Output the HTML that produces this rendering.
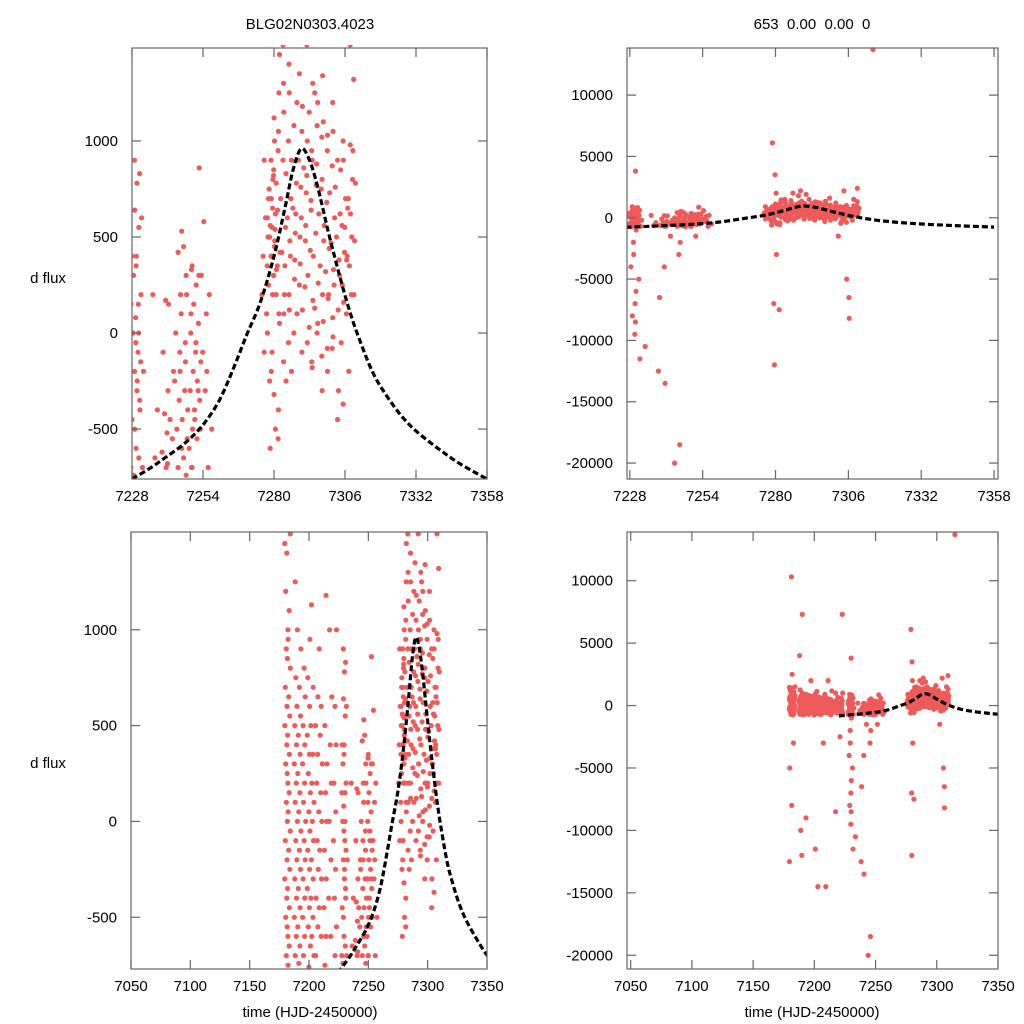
<!DOCTYPE html>
<html><head><meta charset="utf-8">
<style>
html,body{margin:0;padding:0;background:#fff;width:1024px;height:1024px;overflow:hidden;}
svg{display:block;font-family:"Liberation Sans",sans-serif;}
</style></head>
<body>
<svg id="chart" width="1024" height="1024" viewBox="0 0 1024 1024" xmlns="http://www.w3.org/2000/svg">
<text x="310" y="29" font-size="15" text-anchor="middle">BLG02N0303.4023</text>
<text x="812" y="29" font-size="15" text-anchor="middle" xml:space="preserve">653  0.00  0.00  0</text>
<text x="48" y="283" font-size="15" text-anchor="middle">d flux</text>
<text x="48" y="768" font-size="15" text-anchor="middle">d flux</text>
<text x="310" y="1017" font-size="15" text-anchor="middle">time (HJD-2450000)</text>
<text x="812" y="1017" font-size="15" text-anchor="middle">time (HJD-2450000)</text>
</svg>
<script>
// observation nights (HJD-2450000) and flux values per night
const nights = [7181,7183,7189,7192,7196,7200,7203,7207,7210,7214,7218,7222,7229,7230,7231,7233,7237,7240,7242,7245,7247,7249,7251,7252,7254,7256,7277,7279,7280,7281,7283,7285,7287,7289,7291,7293,7295,7297,7299,7301,7303,7305,7306,7308,7309,7314];
const fluxes = [
[1450,1400,1200,1000,900,850,700,600,500,400,300,200,100,0,-100,-200,-300,-400,-500,-600,-700,2500,-5000,-8000,-12500,10300],
[1100,950,800,650,550,450,350,250,150,50,-50,-150,-250,-350,-450,-550,-650,-750,1500,-3000],
[1250,1000,750,600,500,400,300,200,100,0,-100,-200,-300,-400,-500,-600,-700,7300,-10000,-12000,4000],
[900,700,550,450,350,250,150,50,-50,-150,-250,-350,-450,-550,-650,-740,-9000],
[800,650,500,400,300,200,100,0,-100,-200,-300,-400,-500,-600,-700,2000],
[950,750,600,450,350,250,150,50,-50,-150,-250,-350,-450,-550,-650,-760,-11500],
[1130,700,500,350,200,100,0,-100,-200,-300,-400,-500,-600,-700,-14500],
[650,500,350,200,50,-100,-250,-400,-550,-700,-3000],
[900,600,450,300,150,0,-150,-300,-450,-600,-14500,2000],
[1180,500,300,150,0,-150,-300,-450,-600,-750],
[1000,650,400,200,0,-200,-400,-600,-8500],
[1000,600,400,200,50,-100,-250,-400,-550,-700,7300,-2500],
[900,780,400,350,150,80,0,-100,-200,-300,-450,-600,-700,-2000,-4000,-6000,-8000,-9500],
[830,640,550,300,150,-50,-150,-250,-350,-500,-650,-740,-1000,-3000,-5000,-7000],
[3800,600,400,200,0,-200,-400,-700,-8500],
[-10500,-11500],
[200,-400,-650,-12500],
[170,-100,-300,-420,-520,-620,-700,-6500,-4000],
[150,-200,-450,-550,-680,-1500,-13500],
[530,420,200,0,-100,-250,-350,-500,-600,-700,-18500,-20000,-3000],
[450,300,100,-50,-200,-300,-450,-550,-650,-740,-2000],
[330,200,0,-150,-300,-400,-500,-600,-700],
[350,250,100,-100,-200,-300,-400,-550,-700,-1500],
[300,150,50,-50,-150,-250,-350,-450],
[860,580,300,100,-100,-300,-500],
[200,-200,-500,-700],
[900,750,600,500,400,350,200,100,-100],
[1000,900,820,700,650,600,550,500,450,400,300,250,200,0,-100,-250,2000,6100,3500],
[850,780,700,620,560,480,400,350,300,200,-200,-500,-600,-3000,-7000],
[1250,1120,950,800,640,540,420,330,100,-320,-550,-12000,-7500],
[1450,1300,1050,900,700,550,420,200,50,-150,-400,1500],
[1400,1150,1000,830,700,600,480,350,200,100,-50,-250,2000],
[1250,1080,900,780,650,520,400,280,120,0,-200,1800],
[1350,1200,1050,900,760,620,500,380,250,100,-100,2200],
[1180,1000,860,730,600,480,360,240,120,-50,1900],
[1300,1150,950,820,690,560,430,300,170,30,-150,1500],
[1250,1080,900,770,640,520,400,260,130,0,-180],
[1340,1200,1020,880,750,620,480,350,200,50,-120],
[1100,950,800,680,560,440,320,180,60,-80,-300,1600],
[1200,1030,870,730,600,470,330,200,80,-200,-80],
[1050,900,760,620,500,380,250,120,-20,-450,-1500],
[1000,850,700,560,420,300,160,-300,-370,2200,-6500],
[900,700,550,400,250,100,-50,-8200,-5000],
[1320,980,800,650,500,380,200,-200,2400,1500],
[950,780,620,480,350,200],
[13700]
];
// model curve samples
const modelT = [7220,7228,7235,7240,7245,7250,7255,7260,7265,7270,7275,7280,7284,7287,7290,7293,7296,7300,7304,7308,7312,7316,7320,7326,7332,7340,7348,7358];
const modelF = [-830,-760,-700,-650,-600,-540,-460,-350,-190,-10,160,400,650,850,960,900,760,520,300,100,-60,-200,-300,-420,-510,-600,-680,-760];
// axis tick labels
const xTicksTop = [7228,7254,7280,7306,7332,7358];
const xTicksBottom = [7050,7100,7150,7200,7250,7300,7350];
const yTicksSmall = [-500,0,500,1000];
const yTicksBig = [-20000,-15000,-10000,-5000,0,5000,10000];

const NS = "http://www.w3.org/2000/svg";
const svg = document.getElementById('chart');
function mk(tag, attrs, parent){const e=document.createElementNS(NS,tag);for(const k in attrs)e.setAttribute(k,attrs[k]);(parent||svg).appendChild(e);return e;}
const jit = [-1.4,0.3,-0.6,1.2,-0.1,0.8,-1.0,0.5];

const panels = [
 {name:'top-left', x0:132,x1:487,y0:48,y1:479, xmin:7228,xmax:7358, ymin:-760,ymax:1484, xt:xTicksTop, yt:yTicksSmall, mStart:7228},
 {name:'top-right', x0:627,x1:998,y0:48,y1:479, xmin:7227,xmax:7359.4, ymin:-21300,ymax:13840, xt:xTicksTop, yt:yTicksBig, mStart:7220},
 {name:'bottom-left', x0:131,x1:487,y0:532,y1:969, xmin:7050,xmax:7350, ymin:-770,ymax:1510, xt:xTicksBottom, yt:yTicksSmall, mStart:7220},
 {name:'bottom-right', x0:627,x1:998,y0:532,y1:969, xmin:7047,xmax:7350, ymin:-21100,ymax:13900, xt:xTicksBottom, yt:yTicksBig, mStart:7220}
];

panels.forEach((p,i)=>{
 const sx = t => p.x0 + (t-p.xmin)/(p.xmax-p.xmin)*(p.x1-p.x0);
 const sy = v => p.y1 - (v-p.ymin)/(p.ymax-p.ymin)*(p.y1-p.y0);
 const g = mk('g',{});
 
 
 const cp = mk('clipPath',{id:'clip'+i}, g);
 mk('rect',{x:p.x0,y:p.y0-3,width:p.x1-p.x0,height:p.y1-p.y0+3},cp);
 const pts = mk('g',{'clip-path':'url(#clip'+i+')',fill:'#ee5a5a'},g);
 
 
 nights.forEach((t,ni)=>{
  fluxes[ni].forEach((f,k)=>{
   const c = mk('circle',{cx:(sx(t+jit[(k+ni)%8])).toFixed(1),cy:sy(f).toFixed(1),r:2.6},pts);
   
   
  });
 });
 const P = [];
 modelT.forEach((t,k)=>{ if(t>=p.mStart) P.push([sx(t),sy(modelF[k])]); });
 let d='M'+P[0][0].toFixed(1)+','+P[0][1].toFixed(1);
 for(let k=0;k<P.length-1;k++){
  const p0=P[Math.max(k-1,0)],p1=P[k],p2=P[k+1],p3=P[Math.min(k+2,P.length-1)];
  const c1=[p1[0]+(p2[0]-p0[0])/6,p1[1]+(p2[1]-p0[1])/6];
  const c2=[p2[0]-(p3[0]-p1[0])/6,p2[1]-(p3[1]-p1[1])/6];
  d+='C'+c1[0].toFixed(1)+','+c1[1].toFixed(1)+' '+c2[0].toFixed(1)+','+c2[1].toFixed(1)+' '+p2[0].toFixed(1)+','+p2[1].toFixed(1);
 }
 const ml = mk('path',{d:d,fill:'none',stroke:'#000','stroke-width':3.2,'stroke-dasharray':'6,3','clip-path':'url(#clip'+i+')'},g);
 
 
 const fr = mk('rect',{x:p.x0,y:p.y0,width:p.x1-p.x0,height:p.y1-p.y0,fill:'none',stroke:'#666','stroke-width':1.2},g);
 
 
 p.xt.forEach(t=>{
  const x=sx(t);
  mk('line',{x1:x,y1:p.y1,x2:x,y2:p.y1-9,stroke:'#666','stroke-width':1.2},g);
  mk('line',{x1:x,y1:p.y0,x2:x,y2:p.y0+9,stroke:'#666','stroke-width':1.2},g);
  const tl = mk('text',{x:x,y:p.y1+22,'font-size':15,'text-anchor':'middle'},g);
  tl.textContent=t;
  
  
 });
 p.yt.forEach(v=>{
  const y=sy(v);
  mk('line',{x1:p.x0,y1:y,x2:p.x0+9,y2:y,stroke:'#666','stroke-width':1.2},g);
  mk('line',{x1:p.x1,y1:y,x2:p.x1-9,y2:y,stroke:'#666','stroke-width':1.2},g);
  const tl = mk('text',{x:p.x0-14,y:y+5,'font-size':15,'text-anchor':'end'},g);
  tl.textContent=v;
  
  
 });
});
</script>
</body></html>
